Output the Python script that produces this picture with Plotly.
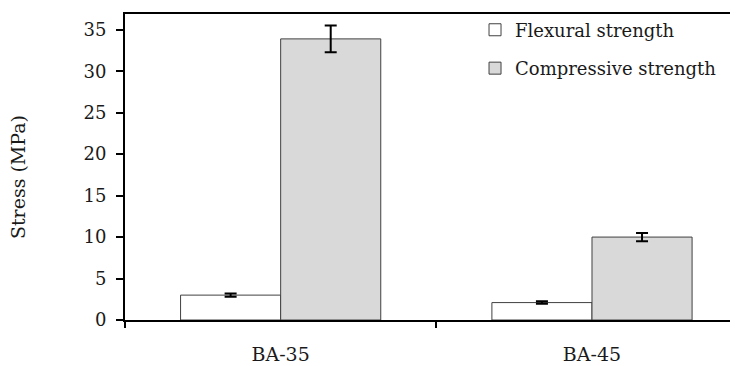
import plotly.graph_objects as go

categories = ["BA-35", "BA-45"]
flexural = [3.0, 2.1]
flexural_err = [0.2, 0.15]
compressive = [33.9, 10.0]
compressive_err = [1.6, 0.5]
y_ticks = [0, 5, 10, 15, 20, 25, 30, 35]

FONT = "DejaVu Serif"
TXT = "#1a1a1a"

fig = go.Figure()
fig.add_trace(go.Bar(
    x=categories, y=flexural, name="Flexural strength",
    marker=dict(color="white", line=dict(color="#404040", width=1)),
    error_y=dict(type="data", array=flexural_err, visible=True,
                 color="black", thickness=2, width=6),
    legendgroup="a",
))
fig.add_trace(go.Bar(
    x=categories, y=compressive, name="Compressive strength",
    marker=dict(color="#d9d9d9", line=dict(color="#404040", width=1)),
    error_y=dict(type="data", array=compressive_err, visible=True,
                 color="black", thickness=2, width=6),
    legendgroup="b",
))

# page body has an 8px default margin, so the figure is 730x358
fig.update_layout(
    width=730, height=358,
    margin=dict(l=117, r=0, t=6, b=46, autoexpand=False),
    paper_bgcolor="white", plot_bgcolor="white",
    font=dict(family=FONT, size=18, color=TXT),
    barmode="group", bargap=0.357, bargroupgap=0,
    showlegend=True,
    legend=dict(x=0.571, y=1.008, xanchor="left", yanchor="top",
                bgcolor="rgba(0,0,0,0)", traceorder="grouped",
                tracegroupgap=12, font=dict(family=FONT, size=18, color=TXT)),
    xaxis=dict(type="category", range=[-0.5, 1.469], showline=True,
               linecolor="black", linewidth=2, mirror=True,
               ticks="outside", tickson="boundaries", ticklen=6,
               tickwidth=2, tickcolor="black", showgrid=False,
               zeroline=False, automargin=False, ticklabelstandoff=16,
               tickfont=dict(family=FONT, size=19, color=TXT)),
    yaxis=dict(range=[0, 36.9], tickvals=y_ticks, showline=True,
               linecolor="black", linewidth=2, ticks="outside",
               ticklen=7, tickwidth=2, tickcolor="black",
               showgrid=False, zeroline=False, ticklabelstandoff=6,
               automargin=False),
    annotations=[dict(text="Stress (MPa)", textangle=-90,
                      x=-0.1746, y=0.467, xref="paper", yref="paper",
                      xanchor="center", yanchor="middle", showarrow=False,
                      font=dict(family=FONT, size=19, color=TXT))],
)

fig.write_html("out.html")
